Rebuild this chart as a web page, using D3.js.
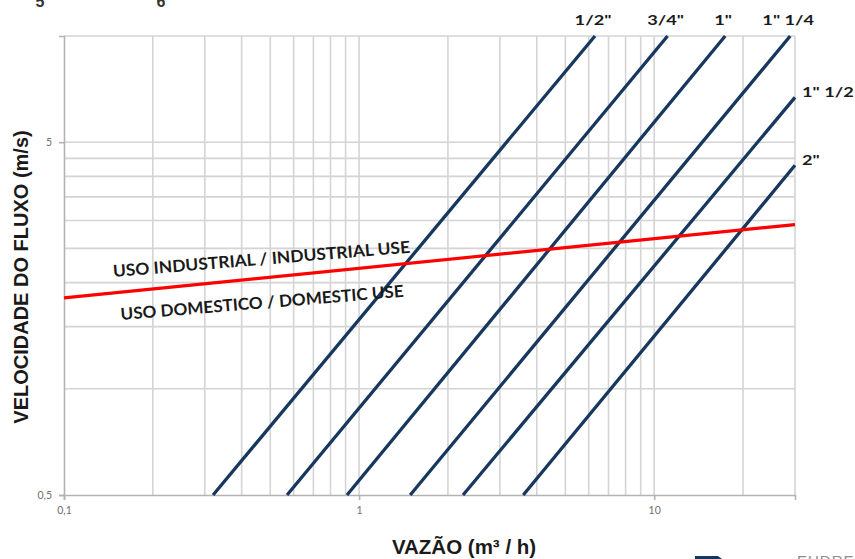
<!DOCTYPE html>
<html><head><meta charset="utf-8">
<script src="https://cdn.jsdelivr.net/npm/d3@7/dist/d3.min.js"></script>
<style>
body{margin:0;background:#fff;}
svg{display:block;}
</style></head>
<body>
<svg id="c" width="855" height="559"></svg>
<script>
// ---- data ----
const xDomain = [0.1, 30];
const yDomain = [0.5, 10];
const xGrid = [0.2,0.3,0.4,0.5,0.6,0.7,0.8,0.9,1,2,3,4,5,6,7,8,9,10,20,30];
const yGrid = [1,1.5,2,2.5,3,3.5,4,4.5,5,10];
const xTicks = [0.1, 1, 10];
const xTickLabels = ["0,1", "1", "10"];
const yTicks = [0.5, 5];
const yTickLabels = ["0,5", "5"];

const pipeNames = ['1/2"', '3/4"', '1"', '1" 1/4', '1" 1/2', '2"'];
// [flow m3/h, velocity m/s] at the start and end of each line
const pipeStart = [[0.32,0.5],[0.57,0.5],[0.91,0.5],[1.49,0.5],[2.25,0.5],[3.6,0.5]];
const pipeEnd   = [[6.3,10],[11.1,10],[17.4,10],[28.9,10],[30,6.7],[30,4.3]];

const limitFlow = [0.1, 30];
const limitVel  = [1.81, 2.92];
const limitLabels = ["USO INDUSTRIAL / INDUSTRIAL USE", "USO DOMESTICO / DOMESTIC USE"];

// ---- layout ----
const L = 64, R = 795, T = 36, B = 495;
const svg = d3.select("#c");
const x = d3.scaleLog().domain(xDomain).range([L, R]);
const y = d3.scaleLog().domain(yDomain).range([B, T]);

// grid
const g = svg.append("g");
g.selectAll("line.vx").data(xGrid).join("line")
  .attr("x1", d => x(d)).attr("x2", d => x(d))
  .attr("y1", T).attr("y2", B)
  .attr("stroke", "#d4d4d4").attr("stroke-width", 1.6);
g.selectAll("line.hy").data(yGrid).join("line")
  .attr("y1", d => y(d)).attr("y2", d => y(d))
  .attr("x1", L).attr("x2", R)
  .attr("stroke", "#d4d4d4").attr("stroke-width", 1.6);

// axes
const xAxis = d3.axisBottom(x).tickValues(xTicks).tickFormat((d,i) => xTickLabels[i]).tickSize(5).tickPadding(7);
const yAxis = d3.axisLeft(y).tickValues(yTicks).tickFormat((d,i) => yTickLabels[i]).tickSize(5).tickPadding(7);
const gx = svg.append("g").attr("transform", `translate(0,${B})`).call(xAxis);
const gy = svg.append("g").attr("transform", `translate(${L},0)`).call(yAxis);
[gx, gy].forEach(a => {
  a.select(".domain").attr("stroke", "#b3b3b3").attr("stroke-width", 1.6);
  a.selectAll(".tick line").attr("stroke", "#b3b3b3").attr("stroke-width", 1.6);
  a.selectAll(".tick text").attr("fill", "#6f6f6f").attr("font-family", "Lato, sans-serif").attr("font-size", 10.5);
});

// pipe lines
const lineGen = d3.line().x(d => x(d[0])).y(d => y(d[1]));
svg.append("g").selectAll("path").data(pipeNames.map((n,i) => [pipeStart[i], pipeEnd[i]])).join("path")
  .attr("d", lineGen).attr("fill", "none")
  .attr("stroke", "#17375e").attr("stroke-width", 3.3);

// limit line
svg.append("path").datum(limitFlow.map((f,i) => [f, limitVel[i]]))
  .attr("d", lineGen).attr("fill", "none")
  .attr("stroke", "#ff0000").attr("stroke-width", 3.2);

// pipe labels
const lab = svg.append("g").attr("font-family", "Lato, sans-serif").attr("font-weight", "bold").attr("font-size", 14).attr("fill", "#1a1a1a");
pipeNames.forEach((n, i) => {
  const e = pipeEnd[i];
  if (e[1] >= yDomain[1]) {
    lab.append("text").attr("transform", `translate(${x(e[0]) - 2},${T - 11}) scale(1.3,1)`)
      .attr("text-anchor", "middle").text(n);
  } else {
    lab.append("text").attr("transform", `translate(${R + 7},${y(e[1])}) scale(1.3,1)`)
      .attr("text-anchor", "start").text(n);
  }
});

// limit labels (anchored in data coords, rotated along the line)
const ang = -4.7;
const ann = svg.append("g").attr("font-family", "Lato, sans-serif").attr("font-weight", "bold").attr("font-size", 16.5).attr("fill", "#1a1a1a");
const a1 = [x(0.147), 277], a2 = [x(0.156), 320];
ann.append("text").attr("transform", `translate(${a1[0]},${a1[1]}) rotate(${ang})`)
  .attr("textLength", 298).attr("lengthAdjust", "spacingAndGlyphs").text(limitLabels[0]);
ann.append("text").attr("transform", `translate(${a2[0]},${a2[1]}) rotate(${ang})`)
  .attr("textLength", 284).attr("lengthAdjust", "spacingAndGlyphs").text(limitLabels[1]);

// axis titles
svg.append("text").attr("x", 464).attr("y", 554).attr("text-anchor", "middle")
  .attr("font-family", "Liberation Sans, Arial, sans-serif").attr("font-weight", "bold").attr("font-size", 20.5)
  .attr("fill", "#1a1a1a").text("VAZÃO (m³ / h)");
svg.append("text").attr("transform", "translate(28,277) rotate(-90)").attr("text-anchor", "middle")
  .attr("font-family", "Liberation Sans, Arial, sans-serif").attr("font-weight", "bold").attr("font-size", 20)
  .attr("fill", "#1a1a1a").text("VELOCIDADE DO FLUXO (m/s)");

// page fragments at the edges
const frag = svg.append("g").attr("font-family", "Liberation Sans, Arial, sans-serif").attr("font-weight", "bold").attr("font-size", 16).attr("fill", "#333");
frag.append("text").attr("x", 40).attr("y", 7).attr("text-anchor", "middle").text("5");
frag.append("text").attr("x", 161).attr("y", 7).attr("text-anchor", "middle").text("6");
svg.append("path").attr("d", "M695,556 L718,556 L722,559 L695,559 Z").attr("fill", "#17375e");
svg.append("text").attr("x", 797).attr("y", 566).attr("font-family", "Liberation Sans, Arial, sans-serif")
  .attr("font-size", 15).attr("fill", "#8c8c8c").attr("letter-spacing", 1).text("EUDRES");
</script>
</body></html>
